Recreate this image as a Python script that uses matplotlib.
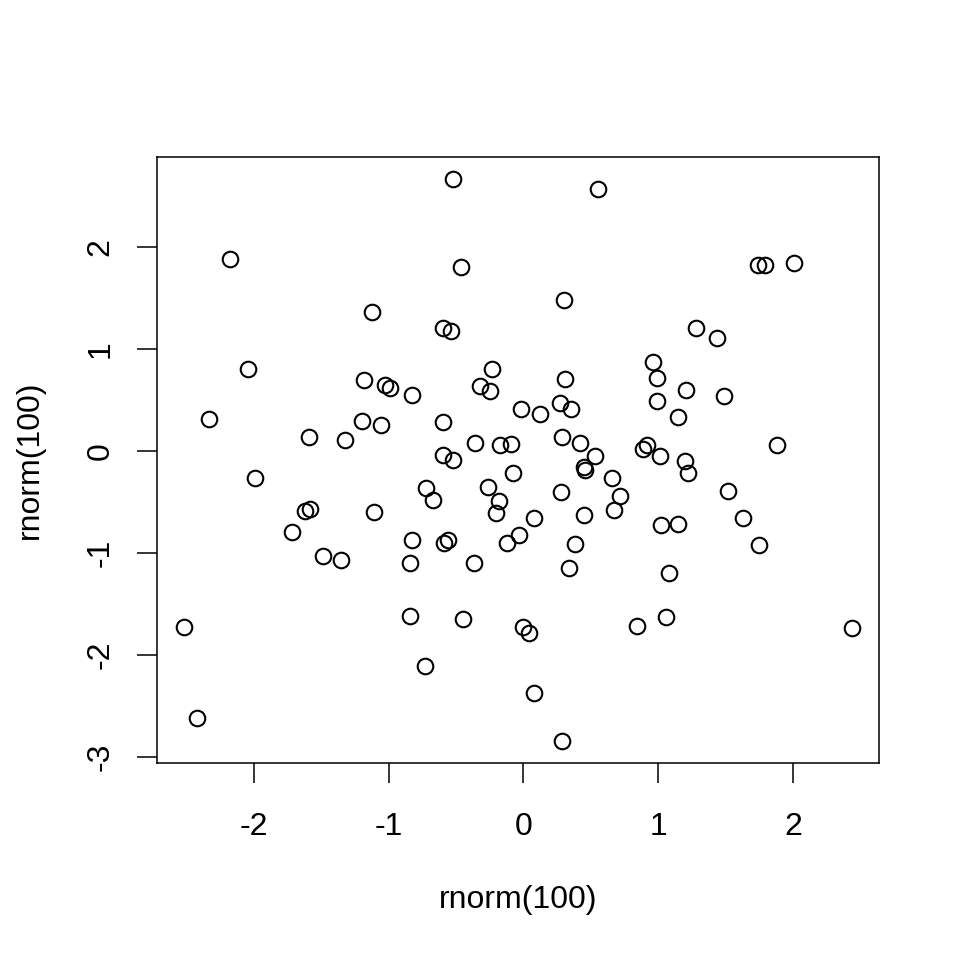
import matplotlib
matplotlib.use("Agg")
import matplotlib.pyplot as plt
import numpy as np

x_vals = [-0.52, 0.55, -0.46, 0.30, -0.60, -0.54, 1.74, 1.79, 2.01, 1.28,
          1.44, 0.96, -2.18, -1.12, -2.04, -1.18, -1.03, -0.99, -2.33, -1.20,
          -1.06, -1.59, -1.32, -1.99, -1.58, -1.62, -1.11, -1.72, -1.49, -1.35,
          -0.23, -0.83, -0.32, -0.25, 0.31, -0.02, 0.12, 0.27, 0.35, -0.60,
          -0.36, -0.17, -0.09, 0.29, 0.42, 0.53, 0.45, 0.46, -0.60, -0.52,
          -0.08, -0.72, -0.67, -0.26, -0.18, -0.20, 0.28, 0.66, 0.72, 0.67,
          0.45, 0.08, -0.83, -0.56, -0.59, -0.12, -0.03, 0.38, -0.84, -0.37,
          0.34, 0.99, 1.21, 1.49, 0.99, 1.15, 1.88, 0.92, 0.89, 1.01,
          1.20, 1.22, 1.52, 1.63, 1.02, 1.15, 1.75, 1.08, 1.06, 0.84,
          2.44, -0.84, -0.45, 0.00, 0.04, -0.73, 0.08, 0.29, -2.52, -2.42]
y_vals = [2.66, 2.57, 1.80, 1.48, 1.20, 1.17, 1.82, 1.82, 1.84, 1.20,
          1.11, 0.87, 1.88, 1.36, 0.80, 0.69, 0.65, 0.62, 0.31, 0.29,
          0.25, 0.14, 0.11, -0.27, -0.57, -0.59, -0.60, -0.80, -1.03, -1.07,
          0.80, 0.55, 0.64, 0.59, 0.70, 0.41, 0.36, 0.47, 0.41, 0.28,
          0.08, 0.06, 0.07, 0.14, 0.08, -0.05, -0.16, -0.19, -0.04, -0.09,
          -0.22, -0.36, -0.48, -0.35, -0.49, -0.61, -0.40, -0.27, -0.44, -0.58,
          -0.63, -0.66, -0.87, -0.87, -0.90, -0.90, -0.83, -0.91, -1.10, -1.10,
          -1.15, 0.71, 0.60, 0.54, 0.49, 0.33, 0.06, 0.06, 0.02, -0.05,
          -0.10, -0.22, -0.39, -0.66, -0.73, -0.72, -0.92, -1.20, -1.63, -1.72,
          -1.74, -1.62, -1.65, -1.73, -1.79, -2.11, -2.37, -2.84, -1.73, -2.62]

x_ticks = [-2, -1, 0, 1, 2]
y_ticks = [-3, -2, -1, 0, 1, 2]
x_label = "rnorm(100)"
y_label = "rnorm(100)"

plt.rcParams['font.family'] = ['Liberation Sans', 'DejaVu Sans']

fig = plt.figure(figsize=(9.6, 9.6), dpi=100)
ax = fig.add_axes([157/960, 1 - 763/960, (879 - 157)/960, (763 - 157)/960])

ax.plot(x_vals, y_vals, linestyle='none', marker='o', markersize=11.2,
        markerfacecolor='none', markeredgecolor='black', markeredgewidth=1.5)

def padded(v):
    lo, hi = min(v), max(v)
    d = (hi - lo) * 0.04
    return lo - d, hi + d

ax.set_xlim(*padded(x_vals))
ax.set_ylim(*padded(y_vals))
ax.set_xticks(x_ticks)
ax.set_yticks(y_ticks)
ax.set_xticklabels([str(t) for t in x_ticks])
ax.set_yticklabels([str(t) for t in y_ticks], rotation=90, va='center')

for s in ax.spines.values():
    s.set_linewidth(1.1)
ax.tick_params(axis='both', direction='out', length=14.4, width=1.1,
               labelsize=23, color='black')
ax.tick_params(axis='x', pad=21)
ax.tick_params(axis='y', pad=15.5)

ax.set_xlabel(x_label, fontsize=23)
ax.set_ylabel(y_label, fontsize=23)
ax.xaxis.set_label_coords(0.5, (763 - 900) / 606)
ax.xaxis.label.set_va('center')
ax.yaxis.set_label_coords((30 - 157) / 722, 0.5)
ax.yaxis.label.set_va('center')

fig.savefig("out.png", dpi=100)
